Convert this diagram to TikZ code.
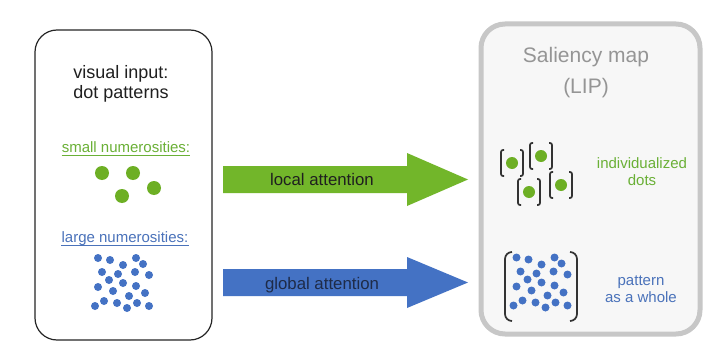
\documentclass[tikz,border=0pt]{standalone}
\usepackage{fontspec}
\setmainfont{Liberation Sans}
\definecolor{leafgreen}{HTML}{6DAF24}
\definecolor{arrowgreen}{HTML}{72B62A}
\definecolor{dotblue}{HTML}{4472C4}
\definecolor{txtgreen}{HTML}{6AB036}
\definecolor{txtblue}{HTML}{4A72BA}
\definecolor{mapgray}{HTML}{959595}
\definecolor{navytxt}{HTML}{1E2B48}
\tikzstyle{inbox} = [draw=black!85, line width=1.2pt, fill=white, rounded corners=22pt]
\tikzstyle{mapbox} = [draw=black!22, line width=5pt, fill=black!3, rounded corners=24pt]
\tikzstyle{gdot} = [circle, fill=leafgreen, inner sep=0pt, minimum size=14pt]
\tikzstyle{sgdot} = [circle, fill=leafgreen, inner sep=0pt, minimum size=12pt]
\tikzstyle{bdot} = [circle, fill=dotblue, inner sep=0pt, minimum size=8pt]
\tikzstyle{brk} = [draw=black!80, line width=1.7pt, rounded corners=2pt]
\tikzstyle{bigbrk} = [draw=black!80, line width=1.7pt, rounded corners=7pt]
\tikzstyle{txt} = [inner sep=0pt, anchor=base, align=center]

\begin{document}
\begin{tikzpicture}[
  x=1pt, y=-1pt,
  big/.style={font=\fontsize{18}{20}\selectfont},
  mid/.style={font=\fontsize{15}{17}\selectfont},
  lab/.style={font=\fontsize{16.8}{20}\selectfont},
]
\path[use as bounding box, fill=white] (0,0) rectangle (704,345);

\node[inbox, minimum width=177pt, minimum height=310pt] (input) at (123.5,185) {};
\node[mapbox, minimum width=219pt, minimum height=310pt] (saliency) at (590.5,179) {};

\node[txt, big, text=black!88] (visual) at (121,98) {visual input:\\dot patterns};
\node[txt, mid, text=txtgreen] (small) at (126,152) {small numerosities:};
\draw[txtgreen, line width=0.8pt] ([yshift=-3pt]small.base west) -- ([yshift=-3pt]small.base east);
\node[txt, mid, text=txtblue] (large) at (125,242) {large numerosities:};
\draw[txtblue, line width=0.8pt] ([yshift=-3pt]large.base west) -- ([yshift=-3pt]large.base east);

\foreach \x/\y [count=\i] in {102/173,133/173,154/188,122/196}
  \node[gdot] (few\i) at (\x,\y) {};

\foreach \x/\y [count=\i] in {98/258,110/260,123/265,136/258,143/264,
    102/272,118/274,135/272,149/275,109/280,123/283,136/286,
    98/287,113/291,129/296,145/293,104/301,117/303,137/303,
    95/306,127/308,149/306} {
  \node[bdot] (many\i) at (\x,\y) {};
  \node[bdot] (crowd\i) at (\x+418.5,\y-0.5) {};
}

\coordinate (localtail) at (223,179.5);
\coordinate (globaltail) at (223,282.5);
\fill[arrowgreen] (localtail) ++(0,-13.5) -- ++(184,0) -- ++(0,-13) -- ++(61,26.5)
  -- ++(-61,26.5) -- ++(0,-13) -- ++(-184,0) -- cycle;
\fill[dotblue] (globaltail) ++(0,-13.5) -- ++(184,0) -- ++(0,-12) -- ++(61,25.5)
  -- ++(-61,25.5) -- ++(0,-12) -- ++(-184,0) -- cycle;
\node[txt, lab, text=black!88] (local) at (322,185) {local attention};
\node[txt, lab, text=navytxt] (global) at (322,289) {global attention};

\node[txt, font=\fontsize{21}{31}\selectfont, text=mapgray] (title) at (586,93) {Saliency map\\(LIP)};

\foreach \x/\y [count=\i] in {512/163,541/156,529/192,561/185} {
  \node[sgdot] (single\i) at (\x,\y) {};
  \draw[brk] ([shift={(-8,-13)}]single\i.center) -| ([shift={(-11,13)}]single\i.center)
    -- ([shift={(-8,13)}]single\i.center);
  \draw[brk] ([shift={(8,-13)}]single\i.center) -| ([shift={(11,13)}]single\i.center)
    -- ([shift={(8,13)}]single\i.center);
}
\coordinate (brkl) at (512,252);
\coordinate (brkr) at (570,252);
\draw[bigbrk] (brkl) -| ++(-7,69) -- ++(7,0);
\draw[bigbrk] (brkr) -| ++(7,69) -- ++(-7,0);

\node[txt, mid, text=txtgreen] (indiv) at (642,185) {individualized\\dots};
\node[txt, mid, text=txtblue] (whole) at (641,302) {pattern\\as a whole};
\end{tikzpicture}
\end{document}
